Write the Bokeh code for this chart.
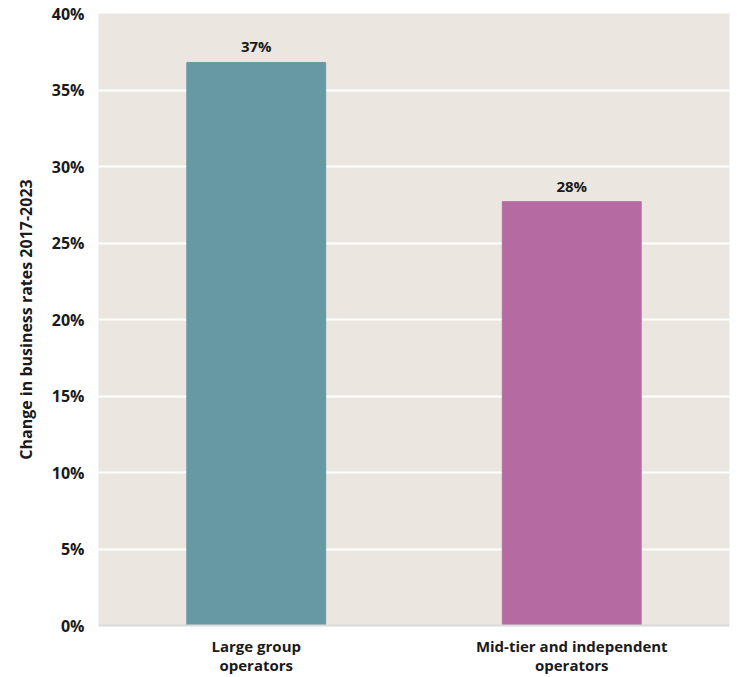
from bokeh.plotting import figure
from bokeh.models import ColumnDataSource, NumeralTickFormatter, FixedTicker, LabelSet
from bokeh.core.properties import value
from bokeh.embed import file_html
from bokeh.resources import INLINE

categories = ["Large group\noperators", "Mid-tier and independent\noperators"]
values = [0.368, 0.277]
labels = ["37%", "28%"]
colors = ["#6699a3", "#b56ba2"]
yticks = [0, 0.05, 0.10, 0.15, 0.20, 0.25, 0.30, 0.35, 0.40]

FONT = "Open Sans"
TXT = "#1a1a1a"

src = ColumnDataSource(dict(cat=categories, val=values, lab=labels, col=colors))

p = figure(x_range=categories, y_range=(0, 0.40), width=737, height=677,
           output_backend="svg", toolbar_location=None,
           min_border_left=98, min_border_right=8, min_border_top=13, min_border_bottom=40)
p.background_fill_color = "#ebe6df"
p.border_fill_color = "white"
p.outline_line_color = None

p.vbar(x="cat", top="val", width=0.44, color="col", source=src)
p.add_layout(LabelSet(x="cat", y="val", text="lab", source=src, y_offset=6,
                      text_align="center", text_baseline="bottom",
                      text_font=value(FONT), text_font_style="bold", text_font_size="15px",
                      text_color=TXT))

p.xgrid.grid_line_color = None
p.ygrid.grid_line_color = "white"
p.ygrid.grid_line_width = 2
p.ygrid.ticker = FixedTicker(ticks=yticks[:-1])

p.yaxis.ticker = FixedTicker(ticks=yticks)
p.yaxis.formatter = NumeralTickFormatter(format="0%")
p.yaxis.axis_line_color = None
p.yaxis.major_tick_line_color = None
p.yaxis.minor_tick_line_color = None
p.yaxis.major_label_text_font = FONT
p.yaxis.major_label_text_font_style = "bold"
p.yaxis.major_label_text_font_size = "16px"
p.yaxis.major_label_text_color = TXT
p.yaxis.major_label_standoff = 8
p.yaxis.axis_label = "Change in business rates 2017-2023"
p.yaxis.axis_label_text_font = FONT
p.yaxis.axis_label_text_font_style = "bold"
p.yaxis.axis_label_text_font_size = "16px"
p.yaxis.axis_label_text_color = TXT
p.yaxis.axis_label_standoff = 12

p.xaxis.axis_line_color = "#d9d9d9"
p.xaxis.axis_line_width = 2
p.xaxis.major_tick_line_color = None
p.xaxis.minor_tick_line_color = None
p.xaxis.major_label_text_font = FONT
p.xaxis.major_label_text_font_style = "bold"
p.xaxis.major_label_text_font_size = "15px"
p.xaxis.major_label_text_line_height = 0.95
p.xaxis.major_label_text_color = TXT
p.xaxis.major_label_standoff = 4

open("out.html", "w").write(file_html(p, INLINE))
